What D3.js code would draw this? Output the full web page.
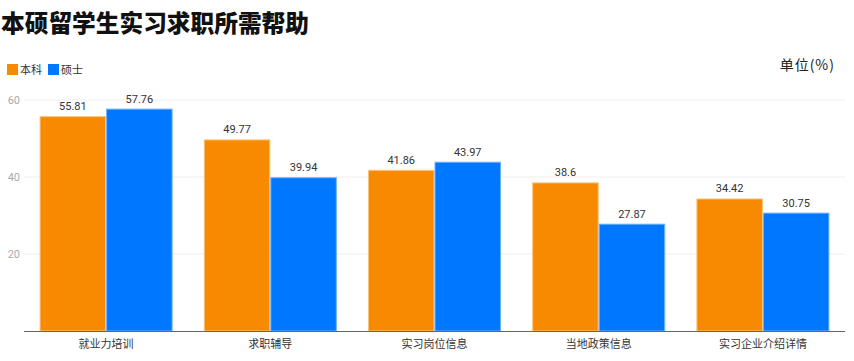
<!DOCTYPE html>
<html><head><meta charset="utf-8">
<script src="https://cdn.jsdelivr.net/npm/d3@7"></script>
<style>body{margin:0;background:#fff;font-family:"Noto Sans CJK SC","Noto Sans",sans-serif;}</style>
</head><body>
<svg id="c" width="854" height="361"></svg>
<script>
const categories = ["就业力培训","求职辅导","实习岗位信息","当地政策信息","实习企业介绍详情"];
const seriesNames = ["本科","硕士"];
const undergrad = [55.81,49.77,41.86,38.6,34.42];
const master = [57.76,39.94,43.97,27.87,30.75];
const yTicks = [20,40,60];
const colors = ["#f78a00","#0077ff"];
const strokes = ["#fbc27a","#6fb1ff"];

(function(){
const svg = d3.select("#c");
const font = '"Roboto","Noto Sans CJK SC","Noto Sans",sans-serif';
const cjk = '"Noto Sans CJK SC","Noto Sans",sans-serif';
const pLeft = 24, pRight = 845, pTop = 100, pBottom = 331;

const x = d3.scaleBand().domain(categories).range([pLeft,pRight]).paddingInner(0.19).paddingOuter(0.095);
const x1 = d3.scaleBand().domain(seriesNames).range([0,x.bandwidth()]);
const y = d3.scaleLinear().domain([0,60]).range([pBottom,pTop]);

svg.append("text").attr("x",1).attr("y",32).text("本硕留学生实习求职所需帮助")
  .attr("font-family",cjk).attr("font-size",23.7).attr("font-weight",900).attr("fill","#111");

const lg = svg.append("g");
seriesNames.forEach((n,i)=>{
  const lx = 7 + i*41;
  lg.append("rect").attr("x",lx).attr("y",64).attr("width",11).attr("height",11).attr("fill",colors[i]);
  lg.append("text").attr("x",lx+13).attr("y",73.5).text(n).attr("font-family",cjk).attr("font-size",11).attr("fill","#333");
});
svg.append("text").attr("x",835).attr("y",70).attr("text-anchor","end").text("单位(%)")
  .attr("font-family",cjk).attr("font-size",14).attr("letter-spacing",1).attr("fill","#222");

yTicks.forEach(t=>{
  svg.append("line").attr("x1",pLeft).attr("x2",pRight).attr("y1",y(t)).attr("y2",y(t)).attr("stroke","#eeeeee").attr("stroke-width",1);
  svg.append("text").attr("x",20).attr("y",y(t)+4).attr("text-anchor","end").text(t)
    .attr("font-family",font).attr("font-size",11).attr("fill","#aaa");
});

const data = [undergrad, master];
categories.forEach((c,ci)=>{
  seriesNames.forEach((s,si)=>{
    const v = data[si][ci];
    const bx = x(c)+x1(s);
    svg.append("rect").attr("x",bx+0.5).attr("y",y(v)+0.5).attr("width",x1.bandwidth()-1).attr("height",pBottom-y(v)-0.5)
      .attr("fill",colors[si]).attr("stroke",strokes[si]).attr("stroke-width",1);
    svg.append("text").attr("x",bx+x1.bandwidth()/2).attr("y",y(v)-6).attr("text-anchor","middle").text(v)
      .attr("font-family",font).attr("font-size",11).attr("fill","#333");
  });
  svg.append("text").attr("x",x(c)+x.bandwidth()/2).attr("y",347.5).attr("text-anchor","middle").text(c)
    .attr("font-family",cjk).attr("font-size",11).attr("fill","#333");
});
svg.append("line").attr("x1",pLeft).attr("x2",pRight).attr("y1",pBottom+0.5).attr("y2",pBottom+0.5).attr("stroke","#666").attr("stroke-width",1);
})();
</script>
</body></html>
